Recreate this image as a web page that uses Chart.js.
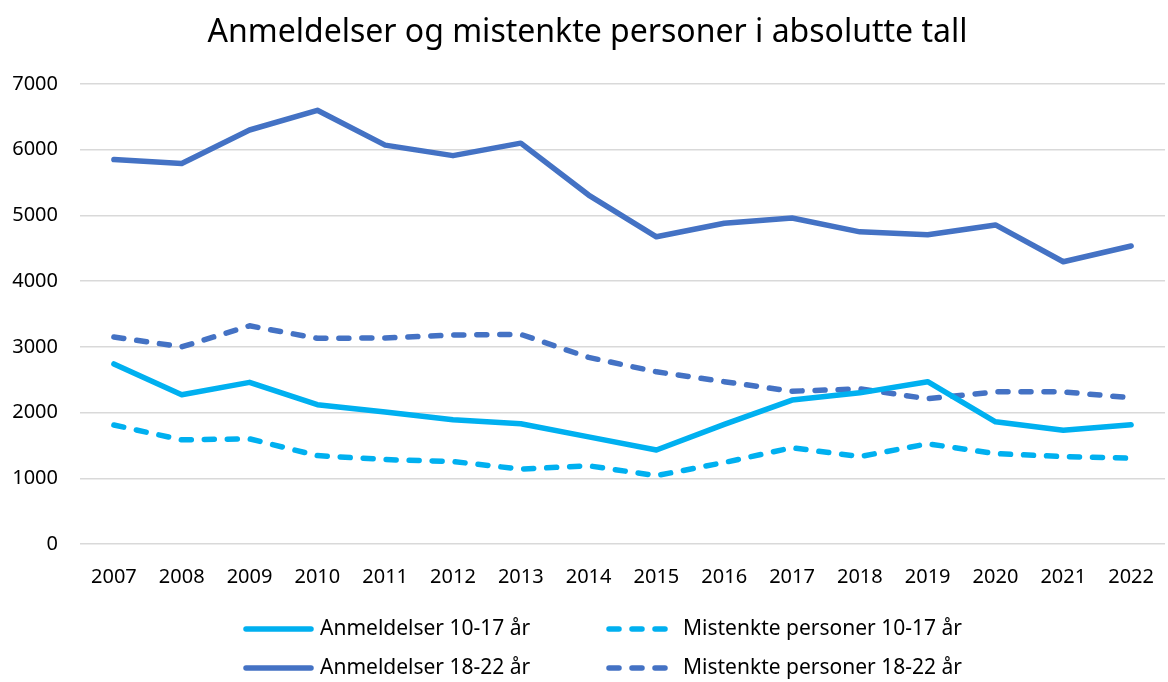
<!DOCTYPE html>
<html>
<head>
<meta charset="utf-8">
<script src="https://cdn.jsdelivr.net/npm/chart.js@4/dist/chart.umd.min.js"></script>
<style>
  html, body { margin: 0; padding: 0; background: #fff; overflow: hidden; }
  #wrap { width: 1175px; height: 682px; }
</style>
</head>
<body>
<div id="wrap"><canvas id="chart"></canvas></div>
<script>
// Data
const years = ['2007','2008','2009','2010','2011','2012','2013','2014','2015','2016','2017','2018','2019','2020','2021','2022'];
const anmeldelser1017 = [2740, 2270, 2460, 2120, 2010, 1890, 1830, 1630, 1430, 1820, 2190, 2300, 2470, 1860, 1730, 1815];
const mistenkte1017   = [1810, 1585, 1600, 1345, 1285, 1255, 1140, 1190, 1040, 1240, 1465, 1330, 1525, 1375, 1330, 1305];
const anmeldelser1822 = [5850, 5790, 6300, 6600, 6070, 5910, 6100, 5310, 4675, 4880, 4960, 4750, 4705, 4855, 4295, 4535];
const mistenkte1822   = [3150, 3000, 3320, 3130, 3135, 3180, 3190, 2840, 2620, 2470, 2325, 2360, 2210, 2315, 2315, 2225];
const yTicks = [0, 1000, 2000, 3000, 4000, 5000, 6000, 7000];

const lightBlue = '#00B0F0';
const darkBlue = '#4472C4';
const fontFamily = '"Noto Sans", "Open Sans", sans-serif';

function lineSet(label, data, color, dashed) {
  return {
    label: label,
    data: data,
    borderColor: color,
    backgroundColor: color,
    borderWidth: 5.5,
    borderDash: dashed ? [10, 13] : [],
    borderCapStyle: 'round',
    borderJoinStyle: 'round',
    pointRadius: 0,
    pointHoverRadius: 0,
    tension: 0,
    fill: false
  };
}

// legend drawn as a 2x2 grid under the axis
const gridLegend = {
  id: 'gridLegend',
  afterDraw(chart) {
    const ctx = chart.ctx;
    const cols = [{ x: 246, len: 65, text: 320 }, { x: 609, len: 56, text: 683 }];
    const rows = [629, 668];
    chart.data.datasets.forEach((ds, i) => {
      const c = cols[i % 2];
      const y = rows[Math.floor(i / 2)];
      ctx.save();
      ctx.strokeStyle = ds.borderColor;
      ctx.lineWidth = 5.5;
      ctx.lineCap = 'round';
      ctx.setLineDash(ds.borderDash);
      ctx.beginPath();
      ctx.moveTo(c.x, y);
      ctx.lineTo(c.x + c.len, y);
      ctx.stroke();
      ctx.setLineDash([]);
      ctx.fillStyle = '#000';
      ctx.font = '21px ' + fontFamily;
      ctx.textBaseline = 'middle';
      ctx.fillText(ds.label, c.text, y);
      ctx.restore();
    });
  }
};

const ctx = document.getElementById('chart').getContext('2d');
const chart = new Chart(ctx, {
  type: 'line',
  data: {
    labels: years,
    datasets: [
      lineSet('Anmeldelser 10-17 år', anmeldelser1017, lightBlue, false),
      lineSet('Mistenkte personer 10-17 år', mistenkte1017, lightBlue, true),
      lineSet('Anmeldelser 18-22 år', anmeldelser1822, darkBlue, false),
      lineSet('Mistenkte personer 18-22 år', mistenkte1822, darkBlue, true)
    ]
  },
  options: {
    responsive: true,
    maintainAspectRatio: false,
    animation: false,
    layout: { padding: { left: 0, right: 0, top: 0, bottom: 72 } },
    plugins: {
      legend: { display: false },
      tooltip: { enabled: false },
      title: {
        display: true,
        text: 'Anmeldelser og mistenkte personer i absolutte tall',
        color: '#000',
        font: { family: fontFamily, size: 32, weight: 'normal' },
        padding: { top: 14, bottom: 31.6 }
      }
    },
    scales: {
      x: {
        offset: true,
        grid: { display: false, drawTicks: false },
        border: { display: false },
        ticks: { color: '#000', font: { family: fontFamily, size: 20 }, padding: 21, maxRotation: 0, autoSkip: false }
      },
      y: {
        min: 0,
        max: 7000,
        afterBuildTicks: (scale) => { scale.ticks = yTicks.map(v => ({ value: v })); },
        afterFit: (scale) => { scale.width = 80; },
        grid: { color: '#d9d9d9', lineWidth: 1.5, drawTicks: false },
        border: { display: false },
        ticks: { color: '#000', font: { family: fontFamily, size: 20 }, padding: 22, callback: (v) => String(v) }
      }
    }
  },
  plugins: [gridLegend]
});
</script>
</body>
</html>
